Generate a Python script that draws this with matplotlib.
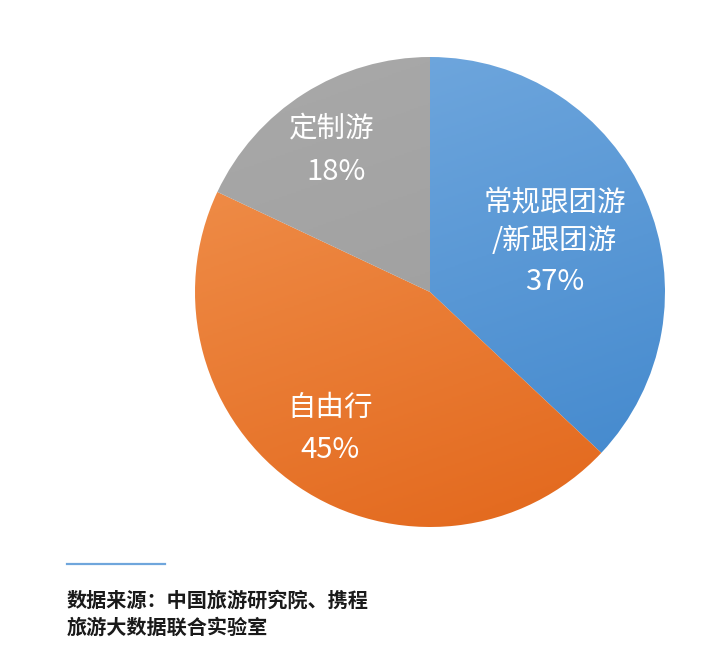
import numpy as np
import matplotlib
matplotlib.use("Agg")
import matplotlib.pyplot as plt
from matplotlib.colors import LinearSegmentedColormap

plt.rcParams['font.family'] = ['Noto Sans CJK SC', 'DejaVu Sans']

categories = ["常规跟团游\n/新跟团游", "自由行", "定制游"]
values = [37, 45, 18]
pct_labels = ["37%", "45%", "18%"]
source_lines = ["数据来源：中国旅游研究院、携程", "旅游大数据联合实验室"]

# light -> dark gradient colours per slice
grad_colors = [("#74aadf", "#3f86cc"), ("#f29552", "#e2661a"), ("#a9a9a9", "#9a9a9a")]

fig = plt.figure(figsize=(7.2, 6.54), dpi=100)
ax = fig.add_axes([195 / 720, 1 - 527 / 654, 470 / 720, 470 / 654])

wedges, _ = ax.pie(values, startangle=90, counterclock=False, radius=1,
                   wedgeprops=dict(linewidth=0))

yy, xx = np.mgrid[1:-1:300j, -1:1:300j]
grad = (xx * 0.35 - yy) / 1.35
grad = (grad - grad.min()) / (grad.max() - grad.min())
for w, (c1, c2) in zip(wedges, grad_colors):
    w.set_facecolor("none")
    cmap = LinearSegmentedColormap.from_list("g", [c1, c2])
    im = ax.imshow(grad, cmap=cmap, extent=[-1, 1, -1, 1], origin="upper",
                   interpolation="bilinear", zorder=1)
    im.set_clip_path(w)

# label positions (data coords inside each slice)
name_pos = [(0.53, 0.30), (-0.426, -0.494), (-0.42, 0.698)]
pct_pos = [(0.532, 0.043), (-0.426, -0.672), (-0.40, 0.511)]
for name, pct, (nx, ny), (px, py) in zip(categories, pct_labels, name_pos, pct_pos):
    ax.text(nx, ny, name, ha="center", va="center", color="white",
            fontsize=20.5, linespacing=1.35, zorder=3)
    ax.text(px, py, pct, ha="center", va="center", color="white",
            fontsize=21, fontweight="light", zorder=3)

ax.set_xlim(-1, 1)
ax.set_ylim(-1, 1)
ax.set_aspect("equal")
ax.axis("off")

# source note
fig.add_artist(plt.Line2D([67 / 720, 165 / 720], [1 - 564 / 654] * 2,
                          color="#6fa6dc", linewidth=1.6))
fig.text(67 / 720, 1 - 600 / 654, source_lines[0], fontsize=14.5, color="#1a1a1a",
         va="center", ha="left", fontweight="bold")
fig.text(67 / 720, 1 - 627 / 654, source_lines[1], fontsize=14.5, color="#1a1a1a",
         va="center", ha="left", fontweight="bold")

fig.savefig("out.png", dpi=100, facecolor="white")
